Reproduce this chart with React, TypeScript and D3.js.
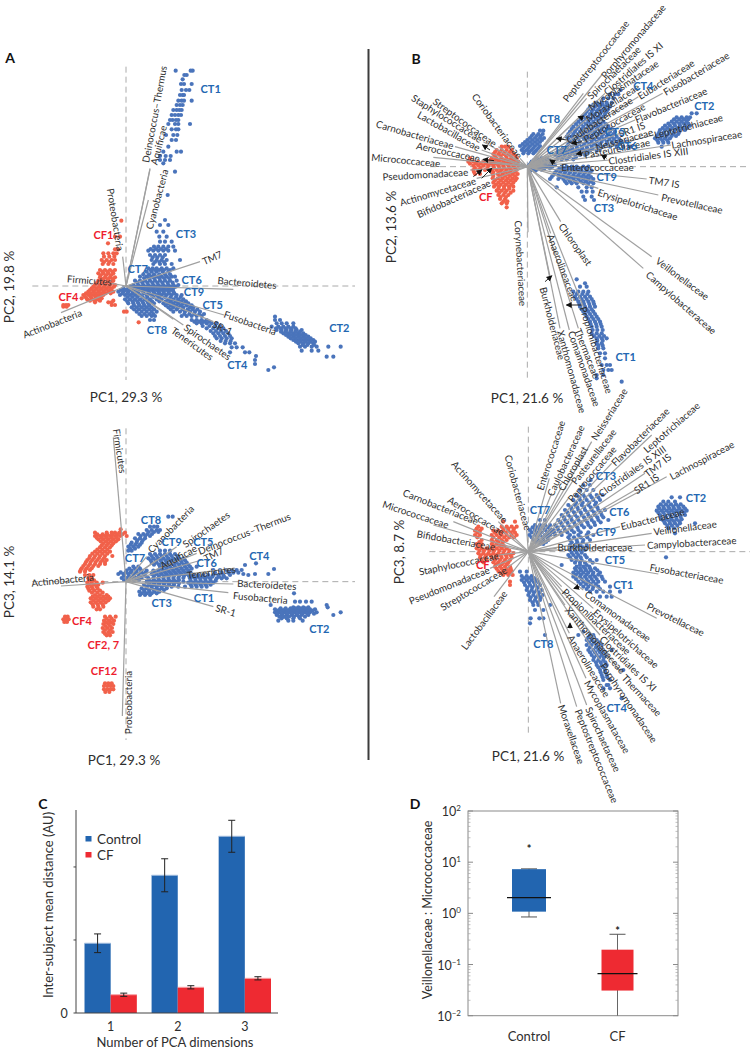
import React from "react";
import * as d3 from "d3";

type Row = number[];
type Load = [string, number, number, number, number, number, number];
type Tag = [string, number, number];

// ---- Panel A, PC1 / PC2 (score rows: [pc2, pc1, pc1, ...], read-off units)
const a1Blue: Row[] = [
  [92,527,578,572],[105,553,560],[118,548],[132,543,552,575],[150,545,568,558],[165,540,552,548],[182,575,545,552,535],[195,530,540,548],[210,520,530,538,545],[225,515,525,535,543],[240,518,528,535,510],[252,505,525,535,570],[268,515,528,535],[285,498,520,532],[300,515,528],[320,505],[335,490,530,543],[348,480,497,512],[360,480,495,510],[370,490],[395,525],[465,503],
  [540,495],[555,480,505],[575,470,490],[590,478,500],[605,480,495,515],[620,462,475,490,505,520],[632,445,460,475,490,505,525],[645,450,465,480,495],[660,455,470,485,500,540],[672,460,480,495,515],[685,445,458,470,485,500,520],[695,440,455,470,488,505],[710,420,440,455,470,485,500,515,525],[722,405,420,435,450,465,480,495,510,530],[735,400,415,430,445,460,475,490,505,520,535],[745,370,385,400,415,430,445,460,475,490,505,520],[755,355,370,385,400,415,430,445,460,475,490,505,520],[765,360,375,390,405,420,440,455,470,485,500,515,530,545],[778,375,390,405,420,435,450,470,485,505,520,535,550],[790,385,400,415,430,445,462,490,505,520,535,550,565],[802,395,410,425,440,455,505,520,535,550,570,580],[815,410,425,440,455,470,520,540,555,570,585,600],[828,425,440,455,465,545,560,575,590,605],[840,450,462,575,590,605,620],[850,590,605,620,635,650],[865,620,640,655,670],[880,640,655,670,685],[895,650,665,680,695],[910,675,690,705],[922,695,710,728],[937,690,735,748],[948,768],[960,765],[972,765],[982,822],[990,805],
  [714,432,447,462,478,492,507],[728,412,427,442,457,472,487,503,518],[740,392,408,423,437,452,467,482,497,512,527],[750,362,377,393,408,423,438,453,468,482,497,512],[760,367,382,397,412,431,448,463,478,492,507,523],[771,383,397,412,428,442,460,477,495,512,528,542],[784,382,398,412,427,442,456,478,497,512,528,543,558],[796,402,418,433,448,497,513,528,543,560,575],[808,402,417,433,448,462,512,530,548,563,578,592],[822,418,433,448,460,553,568,583,598,612],[845,583,598,612,628],[858,608,628,645,660],[873,632,648,663,678],[888,645,660,675,690],[903,662,677,692],
  [627,452,468,483,498],[652,458,472,488],[666,465,478,492],[690,452,465,478,492,510],[703,430,447,462,478,495,510],
  [830,825],[840,825,840],[850,830,845,860,880],[860,815,835,850,865,880],[870,830,845,860,875,890,905],[880,850,865,880,895,910],[890,865,880,895,910,925],[900,880,895,910,925,940],[910,895,910,925,940],[920,900,915,935,950,985,1022],[932,905,935,955],[950,980,1000],
  [865,828,842,857,872,887],[875,843,857,872,887,900],[885,858,872,887,902,917],[895,872,887,902,917,932],[905,888,902,917,932,945],[915,908,922,942],
];
const a1Red: Row[] = [
  [542,364],[590,345,360],[610,324],[628,345,355],[640,310,325,340,350],[660,305,320,335,345],[672,308,325,340],[690,300,315,330,345],[700,295,310,325,340],[712,300,315,330,345],[722,295,310,325,340],[735,285,300,315,330,345],[745,275,290,305,320,335],[755,265,280,295,310,325,340],[765,250,265,280,295,310],[775,245,260,275,290,305],[782,270,285,300,340],[787,285,325,335],[795,190,198,205,335,345],[800,190,200],[815,372,380],[847,416],
  [650,312,328,343],[666,312,328],[695,307,322,337],[706,302,318,333],[717,307,322,337],[729,290,305,320,335],[740,280,297,312,327,342],[750,270,285,300,315,330],[760,258,272,287,302,317,332],[770,255,272,287,302],[779,262,280,295],
];
// ---- Panel A, PC1 / PC3
const a2Blue: Row[] = [
  [350,505,518],[380,450,462,472],[390,440,455,470,480],[402,415,430,442,456],[415,405,420,435],[428,395,410,425],[440,385,400,415],[452,385,395,480,495,510],
  [396,446,462,475],[408,422,436,450],[421,412,428],[434,392,406,420],[446,390,405],
  [462,450,465,480,495,510,525],[475,445,460,475,490,505,520,535,550],[488,455,470,485,500,515,530,545,560],[500,400,415,480,495,510,525,540,555,570,590],[512,380,395,410,425,440,460,475,490,505,520,535,550,565],[522,355,370,385,400,415,430,455,470,485,500,515,530,545,560,575],[534,365,380,395,410,425,445,460,475,490,505,520,535,550],[545,440,455,470,485,500,515,530,550],[555,432,447,462,477,492,507,522],[565,425,440,455,470,485,500],[575,418,433,448,463,478],[585,420,435,450],
  [468,455,470,485,500,515,532],[481,452,467,482,497,512,527,542,555],[494,462,477,492,507,522,537,552,565],[506,388,405,420,485,500,515,530,545,560,575],[517,362,377,392,407,422,437,465,480,495,510,525,540,555,570],[528,372,387,402,417,437,462,477,492,507,522,537,552,567],[540,372,387,402,417,447,462,477,492,507,522,537],[550,447,462,477,492,507,522,537],[560,440,455,470,485,500,515],[570,432,447,462,477,492],[580,425,440,455,470],
  [490,768],[495,735],[507,822],[510,640,660,680,695,710,725],[522,730,765,805],[525,580,595,610,625,640,655,670,690,745],[535,570,585,600,615,630,650,665,680],[548,565,580,595,610,625,640],[560,535,555,575,590,605,620],
  [530,577,592,607,622,637,657,672],[542,572,587,602,617,632,647],[554,572,587,602,617,632],[518,645,665,685,700,715],
  [580,882],[605,885,900,918,935],[615,812,980],[622,880,895,910,925,983],[628,825,840,855,870,885,900,915,930,945],[637,825,840,855,870,885,900,915,930,950,1022],[645,830,845,860,875,890,905,925,1000],[655,845,860,880,900],[662,835,865,880,908],
  [632,832,847,862,877,892,907,922,938],[641,832,847,862,877,892,907,922,942],[650,838,852,867,882,897,915],[625,842,857,872,887,902,917],
];
const a2Red: Row[] = [
  [388,362],[398,285,320,335,345,358,375],[408,285,300,315,330,345,360,380],[418,295,310,325,340,355],[430,310,325,340],[442,300,315,330],[455,285,300,315,330],[468,270,285,300,315,337],[480,262,277,292,307,320],[492,255,270,285,300,315],[505,245,260,275],[515,240,255],[535,265,275],[548,262,275,290,308],[560,262,275,290],[572,268,283,300],[585,285,300,320],[595,272,287,302,317,330],[607,272,287,302,317],[620,280,295,310],[628,290,300],
  [403,292,308,322,337,352,367],[413,290,305,320,335,350],[424,302,318,333,348],[436,305,320,335],[449,292,307,322],[461,277,292,307,322],[474,268,282,297,312],[486,258,272,287,302,315],[498,250,265,280,295],[510,242,256,270],[525,255,268,280],[541,268,282],[554,268,282,295],[566,265,278,293],[578,276,292,308],[590,278,293,310,325],[601,280,295,310,325],[613,278,293,308],
  [650,195,203,315,330,347],[658,190,198,206],[662,312,327,342],[666,193,201],[672,310,325,340],[684,308,322,336],[696,310,325,338],[706,320,330],
  [656,320,335],[667,318,333],[678,316,330],[690,315,330],[701,315,328],
  [850,315,325,335],[858,312,322,332,340],[868,312,322,332,340],[876,316,328],
];
// ---- Panel B, PC1 / PC2
const b1Blue: Row[] = [
  [392,510,520],[402,490,505,518],[414,480,495,510,522],[426,465,480,495,510],[438,450,465,480,495,510],[450,455,470,485,500],[460,460,475,490],
  [408,485,500,512],[420,472,487,502,516],[432,458,472,487,502],[444,460,475,490,505],[455,462,478,495],
  [475,500,515,530],[485,485,500,515,530,545],[495,478,493,508,523,538,555],[505,478,493,508,523,540],[513,480,495],
  [480,492,507,522,538],[490,482,497,512,527,542],[500,485,500,515,530,547],[509,485,500,515],
  [270,752],[283,720,735,745],[295,700,715,730],[308,680,695,710,725],[320,660,675,690,705,720],[335,650,665,680,695,710],[350,640,655,670,685,700],[365,625,640,655,670,685,700],[380,610,625,640,655,670,685,700,715],[395,600,615,630,645,660,675,690,705,720,735],[410,590,605,620,635,650,665,680,695,710,725,740],[425,600,615,630,650,665,680,695,710,725,740,755,770],[440,590,605,620,635,650,665,680,700,720,740,760,780],[452,570,585,600,615,630,645,660,680],[465,555,570,585,600,615,630,645],[478,560,575,590,610],
  [314,670,685,698,712],[328,655,670,685,700,714],[342,645,660,675,690,705],[357,632,648,662,678,692],[372,618,633,648,662,678,692,708],[387,605,620,635,650,665,680,695,710,725],[402,595,610,625,640,655,670,685,700,715,730],[417,595,610,625,642,658,672,688,702,718,732,748],[432,595,612,627,642,658,672,690,710,730,750],[446,578,592,607,622,637,652,668,690],[458,562,577,592,607,622,637,652],[471,565,580,598,618],
  [340,980,965],[352,920,935,950,960],[365,905,920,935,950],[377,885,900,915,930,945,960],[390,870,885,900,915,930,945],[402,865,880,895,910,925],[415,855,870,885,900],[428,865,880,895],[440,875],
  [358,912,928,942,955],[371,895,912,928,942,955],[384,878,892,907,922,938,952],[396,868,882,897,912,928],[408,860,875,890,905,918],[421,862,877,892],
  [500,575,590,605,620,640,655],[512,560,575,590,605,620,635,650,665],[525,550,565,580,595,610,625,640,655],[537,540,565,580,595,610,625,640,655,670],[550,590,605,620,640,655,670],[562,560,625,650,665],[575,635,650,668],[590,640,665],[600,645,672],
  [506,568,582,598,612,630,648],[518,555,570,585,600,615,630,645,660],[531,545,572,588,603,618,633,648,663],[544,585,600,615,632,648,663],
  [838,620],[850,645],[860,630,650],[875,610,625,640,655],[890,615,630,645,660],[905,625,640,655,670],[920,630,645,660,675],[935,640,655,670],[950,650,665,680],[965,660,675,690],[980,665,680,695],[1000,665,680,695],[1015,680,695,710],[1030,680,695],[1045,685,700],[1060,690,705],[1075,705],[1095,695,710,720],[1110,700,715,725],[1125,680,700],[1135,680],[1145,755],
  [882,620,637,652],[897,620,635,650,665],[912,628,642,658,672],[928,635,650,665],[942,645,660,675],[957,655,670,685],[972,662,678,692],[990,668,682,698],[1008,672,688,702],[1022,682,698],[1037,685,698],
];
const b1Red: Row[] = [
  [440,395,405,415],[450,380,395,410,425],[462,370,385,400,415,430],[475,300,365,380,395,410,425,440],[485,295,310,325,340,355,370,385,400,415,430,445],[497,310,325,340,355,370,385,400,415,430,445],[510,310,325,345,365,380,395,410,425,440],[522,315,330,368,383,398,413,428,443],[535,368,383,398,413,428,440],[548,370,385,400,415,430],[560,372,387,402,417,430],[572,380,395,410,430],[585,385,400,415],[597,390,405],[610,395,410],[622,410],
  [456,375,390,405,420],[468,375,392,408,422,436],[480,362,375,390,405,420,435],[491,300,318,332,348,362,378,392,408,422,438],[504,315,332,352,372,388,402,418,435],[516,312,328,370,388,405,420,435],[528,370,390,405,420,435],[541,375,392,408,422,436],[554,378,392,408,424],[566,385,402,418],[578,388,405,422],[591,392,408],[604,400,412],
];
// ---- Panel B, PC1 / PC3
const b2Blue: Row[] = [
  [270,662],[285,640,660],[300,630,650,670],[315,620,640,660,680,698],[330,610,630,650,670,690],[345,595,615,635,655,675],[360,585,605,625,645,665,685,705],[375,575,595,615,635,655,675,695],[390,565,585,605,625,645,665,685,715],[405,555,575,595,615,635,655,675],[420,545,565,585,605,625],[435,535,555,575,600,625,650,670],[450,600,620,640,660],[465,600,615,630,650],[480,600,615,630,645],[495,595,610,625,645],[510,605,620,635,660,680],[525,575,630,650],[535,615,630,645,660,675],[548,610,625,640,655,670,690],[560,610,630,645,660,675,695],[575,625,640,655,670,685,705],[590,640,655,670,685,720],[605,660,680,700,720,750],[620,690,710,725],
  [322,628,645,665,685],[338,618,638,658,678],[352,603,622,642,662,682],[367,592,612,632,652,672,692],[382,582,602,622,642,662,682,700],[397,572,592,612,632,652,672,692],[412,562,582,602,622,642,662],[427,552,572,592,612,632,655],[442,595,612,632,652],[457,605,622,638],[472,605,622,638,652],[488,605,620,635],[502,600,618,632,650],[518,615,630,645,668],[530,620,640,658],[541,618,633,648,663,682],[554,618,633,650,668,685],[567,618,635,650,665,680,698],[582,632,648,662,678],[597,650,668,690],
  [390,510,525],[405,495,510,525,540],[420,480,495,510,525,540,550],[435,478,495,510,525,540],[450,490,505,520,535],[462,510,520],
  [412,488,503,518,533],[427,485,500,515,532,545],[442,485,502,518,532],[456,498,512,528],
  [322,905,930],[335,880,895,915],[350,865,880,895,910,925,940],[362,860,875,890,905,920,935,950],[375,870,885,900,915,930,945],[388,875,890,905,920,935],[400,885,900,915,930,975],[415,895,912],[430,915],[502,888],
  [343,872,888,903,918,932],[356,868,882,898,912,928,945],[368,865,880,897,912,927,942],[381,872,888,903,918,932],[394,882,898,912,928],[407,892,906,922],
  [545,450,470],[558,455,470,485],[570,455,470,485,500],[585,465,480,495,510],[600,470,485,500,515],[615,475,490,505,518],[630,480,495,510],[645,490,505,540],[660,495,520],[685,482,508,520],[700,480],[735,525],
  [564,462,477,492],[577,462,477,492,505],[592,472,487,503],[607,478,492,508],[622,482,498,512],[637,488,503],
  [725,640],[735,625,660,670],[750,650,665,680],[765,650,665,680,695],[780,655,670,685,700,725],[795,665,680,695,710],[810,670,685,700],[825,680,695,710],[840,690,705,760],[855,695,710],[870,700,720],[885,710,715],[895,700,720],[925,755],
  [742,655,672],[757,657,672,687],[772,660,678,692],[787,660,675,690,705],[802,672,688,702],[817,678,692,706],[832,685,700],[847,692,706],[862,698,712],
];
const b2Red: Row[] = [
  [395,400,435],[410,325,395,410,425,440],[422,315,330,370,385,400,415,430],[435,315,330,365,380,395,410,425,440],[450,335,365,380,395,410],[462,320,335,365,380,395],[475,320,335,350,365,380,395,410],[490,325,340,355,370,385,400,415,430],[503,330,345,365,380,395,410,425],[517,340,370,385,400,415],[530,375,390,405,420],[543,385,400,415,425],[555,400,415,428],[575,420],[585,420],
  [416,320,335,400,415,432],[428,322,375,392,407,422,435],[442,322,370,388,403,418,432],[456,328,370,385,400],[468,328,372,388,402],[482,328,342,358,372,388,403,418],[496,332,348,362,378,392,408,422],[510,335,350,375,390,405,420],[523,378,395,410],[536,380,395,410,422],[549,392,408,420],
];

// ---- Loadings: [taxon, tipPC1, tipPC2, label start x, y, label end x, y]
const a1Loadings: Load[] = [
  ["Deinococcus–Thermus",450,385,435,370,490,75],["Aquificae",450,388,460,375,490,255],["Cyanobacteria",445,480,445,570,495,385],["Proteobacteria",368,650,332,445,362,632],["TM7",600,665,607,665,665,640],["Bacteroidetes",700,748,652,720,830,735],["Fusobacteria",672,825,672,820,830,875],["SR-1",640,845,640,850,695,875],["Spirochaetes",550,855,552,855,695,955],["Tenericutes",520,838,515,865,640,955],["Firmicutes",335,730,202,715,335,725],["Actinobacteria",183,818,68,885,245,815],
];
const a2Loadings: Load[] = [
  ["Firmicutes",340,112,350,88,370,218],["Proteobacteria",367,948,383,990,383,825],["Actinobacteria",183,558,95,548,280,530],["Cyanobacteria",440,470,445,455,578,318],["Spirochaetes",530,440,550,435,685,340],["Deinococcus–Thermus",590,460,592,455,873,345],["Aquificae",470,480,470,505,600,435],["TM7",605,480,615,475,665,450],["Tenericutes",700,505,560,525,708,505],["Bacteroidetes",700,552,713,548,888,558],["Fusobacteria",685,578,700,585,862,600],["SR-1",640,620,650,622,705,638],
];
const b1Loadings: Load[] = [
  ["Coriobacteriaceae",450,475,315,285,450,470],["Streptococcaceae",385,440,190,298,380,435],["Staphylococcaceae",340,425,128,290,335,420],["Lactobacillaceae",335,450,145,340,330,445],["Carnobacteriaceae",255,440,20,370,250,437],["Aerococcaceae",335,480,140,435,330,475],["Micrococcaceae",190,472,5,470,210,490],["Pseudomonadaceae",300,510,35,530,297,515],["Actinomycetaceae",320,535,88,608,318,540],["Bifidobacteriaceae",365,540,140,645,362,545],
  ["Peptostreptococcaceae",640,280,580,305,773,60],["Porphyromonadaceae",695,225,693,236,885,11],["Spirochaetaceae",650,295,652,295,810,140],["Clostridiales IS XI",705,280,703,280,875,130],["Mycoplasmataceae",655,325,655,325,865,185],["Moraxellaceae",655,355,655,355,800,260],["Eubacteriaceae",805,290,805,290,970,185],["Fusobacteriaceae",878,280,878,280,1078,160],["Caulobacteraceae",600,420,595,420,780,300],["Peptococcaceae",640,420,640,420,825,315],["Flavobacteriaceae",795,360,795,360,1010,270],["SR1 IS",750,400,750,400,820,375],["Neisseriaceae",680,440,680,440,845,395],["Pasteurellaceae",640,465,642,465,840,425],["Leptotrichiaceae",852,405,852,405,1058,350],["Lachnospiraceae",903,435,903,435,1117,400],["Clostridiales IS XIII",720,480,720,482,950,452],["Enterococcaceae",575,500,575,500,790,500],["TM7 IS",830,537,840,540,925,552],["Prevotellaceae",865,585,875,590,1058,630],["Erysipelotrichaceae",685,565,685,575,922,650],["Chloroplast",572,665,572,670,662,795],["Veillonellaceae",845,770,858,775,1018,895],["Campylobacteraceae",820,805,828,815,1040,1000],["Corynebacteriaceae",474,697,445,660,460,920],["Anaerolineaceae",542,700,542,705,615,900],["Burkholderiaceae",540,830,520,860,577,1080],["Propionibacteriaceae",640,920,640,920,720,1180],["Thermaceae",625,985,625,990,680,1130],["Comamonadaceae",598,990,603,990,684,1221],["Xanthomonadaceae",570,985,572,990,640,1240],
];
const b2Loadings: Load[] = [
  ["Enterococcaceae",538,265,508,300,575,92],["Caulobacteraceae",545,310,538,318,635,105],["Chloroplast",575,290,570,300,645,170],["Pasteurellaceae",610,270,607,280,733,118],["Peptococcaceae",595,325,595,335,735,168],["Neisseriaceae",665,155,668,150,765,-5],["Flavobacteriaceae",725,220,725,225,895,55],["Leptotrichiaceae",845,135,820,185,988,38],["Clostridiales IS XIII",692,310,692,310,880,175],["TM7 IS",825,250,825,255,900,195],["SR1 IS",795,300,795,303,862,258],["Lachnospiraceae",890,260,897,262,1093,158],["Eubacteriaceae",750,410,750,410,945,362],["Veillonellaceae",845,430,848,425,1042,400],["Campylobacteraceae",825,465,830,465,1100,450],["Burkholderiaceae",560,475,563,472,787,472],["Fusobacteriaceae",865,552,838,530,1062,570],["Prevotellaceae",860,685,832,645,1003,730],["Comamonadaceae",640,600,645,605,843,750],["Erysipelotrichaceae",670,655,672,660,865,830],["Clostridiales IS XI",690,735,692,740,858,900],["Propionibacteriaceae",575,590,580,598,780,790],["Thermaceae",755,850,760,855,872,975],["Xanthomonadaceae",585,645,588,650,765,850],["Porphyromonadaceae",690,810,695,815,860,1060],["Anaerolineaceae",598,730,600,735,715,920],["Mycoplasmataceae",648,865,650,870,775,1090],["Spirochaetaceae",650,945,655,950,745,1145],["Peptostreptococcaceae",620,950,623,955,738,1240],["Moraxellaceae",572,940,575,945,635,1120],
  ["Lactobacillaceae",372,620,275,780,408,600],["Streptococcaceae",410,535,210,655,410,535],["Pseudomonadaceae",360,535,113,635,362,535],["Staphylococcaceae",385,495,145,545,387,495],["Bifidobacteriaceae",375,465,140,430,377,470],["Micrococcaceae",190,405,38,340,237,405],["Carnobacteriaceae",250,395,100,305,325,395],["Aerococcaceae",400,425,235,325,403,430],["Actinomycetaceae",385,395,250,215,410,395],["Coriobacteriaceae",470,420,415,195,475,420],
];

// ---- Small arrows on the crowded biplot B: [fromX, fromY, toX, toY]
const b1Arrows: number[][] = [[360,450,338,435],[372,482,340,478],[310,530,335,510],[335,535,365,505],[590,420,560,415],[635,425,605,430],[640,355,625,350],[640,458,620,462],[710,475,695,465],[555,490,540,480],[525,845,545,828],[635,915,590,915]];
const b2Arrows: number[][] = [[628,590,612,595],[600,715,600,700]];

// ---- Cluster names
const a1Tags: Tag[] = [["CT1",632,145],["CT3",558,581],["CT7",413,686],["CT6",575,719],["CT9",582,753],["CT5",638,794],["CT8",471,868],["CT4",712,972],["CT2",1018,862]];
const a1RedTags: Tag[] = [["CF1",310,584],["CF4",205,768]];
const a2Tags: Tag[] = [["CT8",453,359],["CT9",515,424],["CT5",610,424],["CT7",405,472],["CT6",620,488],["CT4",778,466],["CT1",612,592],["CT3",485,607],["CT2",958,684]];
const a2RedTags: Tag[] = [["CF4",246,660],["CF2, 7",310,733],["CF12",312,812]];
const b1Tags: Tag[] = [["CT8",540,355],["CT7",560,447],["CT4",820,255],["CT2",1003,317],["CT5",735,395],["CT6",772,435],["CT9",710,530],["CT3",702,623],["CT1",767,1070]];
const b1RedTags: Tag[] = [["CF",347,588]];
const b2Tags: Tag[] = [["CT7",510,358],["CT3",708,255],["CT2",978,323],["CT6",748,365],["CT9",708,424],["CT5",735,507],["CT1",760,582],["CT8",520,760],["CT4",740,952]];
const b2RedTags: Tag[] = [["CF",338,523]];

// ---- Panel C
const dims = ["1","2","3"];
const groups = ["Control","CF"];
const controlMean = [0.955,1.886,2.42];
const controlErr = [0.128,0.226,0.219];
const cfMean = [0.25,0.352,0.475];
const cfErr = [0.022,0.022,0.022];
const cTicks = [0,1,2];

// ---- Panel D
const boxNames = ["Control","CF"];
const q1 = [1.08,0.031];
const median = [2.03,0.0665];
const q3 = [7.3,0.195];
const whiskerLow = [0.85,0.01];
const whiskerHigh = [7.4,0.39];
const outlier = [18.7,0.46];
const logDecades = [0.01,0.1,1,10,100];
const decadeExp = ["−2","−1","0","1","2"];

const FONT = "Lato, 'Open Sans', sans-serif";
const BLUE = "#4a74bb", RED = "#f1614a", TAGBLUE = "#2367b2", TAGRED = "#ee1c2e", LOAD = "#a0a0a0", INK = "#2e2e2e";
const expand = (rows: Row[]) => rows.flatMap(([y, ...xs]) => xs.map((x) => [x, y]));

function Biplot({ ox, oy, w, h, cx, cy, h0, h1, v0, v1, blue, red, loads, tags, redTags, arrows, r }: any) {
  const x = d3.scaleLinear().domain([0, w]).range([ox, ox + w / 3]);
  const y = d3.scaleLinear().domain([0, h]).range([oy, oy + h / 3]);
  return (
    <g>
      <line x1={x(h0)} x2={x(h1)} y1={y(cy)} y2={y(cy)} stroke="#aaa" strokeWidth={1} strokeDasharray="6 4" />
      <line x1={x(cx)} x2={x(cx)} y1={y(v0)} y2={y(v1)} stroke="#aaa" strokeWidth={1} strokeDasharray="6 4" />
      {expand(blue).map(([a, b], i) => <circle key={"b" + i} cx={x(a)} cy={y(b)} r={r} fill={BLUE} />)}
      {expand(red).map(([a, b], i) => <circle key={"r" + i} cx={x(a)} cy={y(b)} r={r} fill={RED} />)}
      {loads.map((l: Load) => <line key={l[0]} x1={x(cx)} y1={y(cy)} x2={x(l[1])} y2={y(l[2])} stroke={LOAD} strokeWidth={1.2} />)}
      {arrows.map((a: number[], i: number) => <line key={i} x1={x(a[0])} y1={y(a[1])} x2={x(a[2])} y2={y(a[3])} stroke="#111" strokeWidth={0.9} markerEnd="url(#head)" />)}
      {loads.map((l: Load) => {
        const mx = x((l[3] + l[5]) / 2), my = y((l[4] + l[6]) / 2);
        const ang = (Math.atan2(l[6] - l[4], l[5] - l[3]) * 180) / Math.PI;
        return <text key={l[0]} transform={`translate(${mx},${my}) rotate(${ang})`} textAnchor="middle" dominantBaseline="central" fontSize={9.8} fill={INK} fontFamily={FONT}>{l[0]}</text>;
      })}
      {tags.map((t: Tag) => <text key={t[0]} x={x(t[1])} y={y(t[2])} textAnchor="middle" dominantBaseline="central" fontSize={11} fontWeight={700} fill={TAGBLUE} fontFamily={FONT}>{t[0]}</text>)}
      {redTags.map((t: Tag) => <text key={t[0]} x={x(t[1])} y={y(t[2])} textAnchor="middle" dominantBaseline="central" fontSize={11} fontWeight={700} fill={TAGRED} fontFamily={FONT}>{t[0]}</text>)}
    </g>
  );
}

function Bars() {
  const y = d3.scaleLinear().domain([0, 2.78]).range([1013, 810]);
  const band = d3.scaleBand().domain(dims).range([82.5, 273]).paddingInner(0.22).paddingOuter(0.03);
  const sub = d3.scaleBand().domain(groups).range([0, band.bandwidth()]);
  const vals = [controlMean, cfMean], errs = [controlErr, cfErr], cols = ["#2265b0", "#ee2a32"], tops = ["#9db9dc", "#f7a3a6"];
  return (
    <g fontFamily={FONT} fill={INK}>
      {groups.map((g, k) => dims.map((d, i) => {
        const bx = band(d)! + sub(g)!;
        const mid = bx + sub.bandwidth() / 2;
        return (
          <g key={g + d}>
            <rect x={bx} width={sub.bandwidth()} y={y(vals[k][i])} height={y(0) - y(vals[k][i])} fill={cols[k]} />
            <line x1={bx} x2={bx + sub.bandwidth()} y1={y(vals[k][i])} y2={y(vals[k][i])} stroke={tops[k]} />
            <line x1={mid} x2={mid} y1={y(vals[k][i] + errs[k][i])} y2={y(vals[k][i] - errs[k][i])} stroke="#222" />
            <line x1={mid - 3.5} x2={mid + 3.5} y1={y(vals[k][i] + errs[k][i])} y2={y(vals[k][i] + errs[k][i])} stroke="#222" />
            <line x1={mid - 3.5} x2={mid + 3.5} y1={y(vals[k][i] - errs[k][i])} y2={y(vals[k][i] - errs[k][i])} stroke="#222" />
          </g>
        );
      }))}
      <line x1={76} x2={76} y1={y(2.78)} y2={y(0)} stroke="#444" />
      <line x1={76} x2={278} y1={y(0)} y2={y(0)} stroke="#444" />
      {cTicks.map((t) => <line key={t} x1={73.5} x2={76} y1={y(t)} y2={y(t)} stroke="#444" />)}
      <text x={64} y={y(0)} textAnchor="middle" dominantBaseline="central" fontSize={12.5}>0</text>
      {dims.map((d) => <text key={d} x={band(d)! + band.bandwidth() / 2} y={1026} textAnchor="middle" dominantBaseline="central" fontSize={12.5}>{d}</text>)}
      <text x={175} y={1042} textAnchor="middle" dominantBaseline="central" fontSize={13}>Number of PCA dimensions</text>
      <text transform="translate(48,905) rotate(-90)" textAnchor="middle" dominantBaseline="central" fontSize={13}>Inter-subject mean distance (AU)</text>
      {groups.map((g, k) => (
        <g key={g}>
          <rect x={85.5} y={836 + k * 16} width={6} height={5.5} fill={cols[k]} />
          <text x={97} y={839 + k * 16} dominantBaseline="central" fontSize={13.5}>{g}</text>
        </g>
      ))}
    </g>
  );
}

function Boxes() {
  const y = d3.scaleLog().domain([0.01, 100]).range([1015.7, 811]);
  const x0 = 468, x1 = 678;
  const centers = [529, 617.5];
  const widths = [17, 16];
  const medHalf = [22, 20];
  const cols = ["#2265b0", "#ee2a32"];
  const minors: number[] = [];
  logDecades.slice(0, -1).forEach((d) => d3.range(2, 10).forEach((m) => minors.push(d * m)));
  return (
    <g fontFamily={FONT} fill={INK}>
      <rect x={x0} y={y(100)} width={x1 - x0} height={y(0.01) - y(100)} fill="none" stroke="#8a8a8a" />
      {logDecades.map((t) => <g key={t}><line x1={x0} x2={x0 + 5} y1={y(t)} y2={y(t)} stroke="#8a8a8a" /><line x1={x1} x2={x1 - 5} y1={y(t)} y2={y(t)} stroke="#8a8a8a" /></g>)}
      {minors.map((t) => <g key={t}><line x1={x0} x2={x0 + 2.5} y1={y(t)} y2={y(t)} stroke="#a5a5a5" strokeWidth={0.7} /><line x1={x1} x2={x1 - 2.5} y1={y(t)} y2={y(t)} stroke="#a5a5a5" strokeWidth={0.7} /></g>)}
      {logDecades.map((t, i) => (
        <text key={t} x={461} y={y(t) + 5} textAnchor="end" fontSize={12.5}>10<tspan dy={-5} fontSize={8}>{decadeExp[i]}</tspan></text>
      ))}
      {boxNames.map((n, i) => (
        <g key={n}>
          <line x1={centers[i]} x2={centers[i]} y1={y(whiskerHigh[i])} y2={y(whiskerLow[i])} stroke="#666" />
          <line x1={centers[i] - 8} x2={centers[i] + 8} y1={y(whiskerHigh[i])} y2={y(whiskerHigh[i])} stroke="#555" />
          {i === 0 && <line x1={centers[i] - 8} x2={centers[i] + 8} y1={y(whiskerLow[i])} y2={y(whiskerLow[i])} stroke="#555" />}
          <rect x={centers[i] - widths[i]} width={widths[i] * 2} y={y(q3[i])} height={y(q1[i]) - y(q3[i])} fill={cols[i]} />
          <line x1={centers[i] - medHalf[i]} x2={centers[i] + medHalf[i]} y1={y(median[i])} y2={y(median[i])} stroke="#111" strokeWidth={1.3} />
          <text x={centers[i]} y={y(outlier[i]) + 4.5} textAnchor="middle" fontSize={11} fontWeight={700} fill="#222">*</text>
          <text x={centers[i]} y={1036} textAnchor="middle" dominantBaseline="central" fontSize={13}>{n}</text>
        </g>
      ))}
      <text transform="translate(427,910) rotate(-90)" textAnchor="middle" dominantBaseline="central" fontSize={12.5}>Veillonellaceae : Micrococcaceae</text>
    </g>
  );
}

const Title = ({ x, y, rot, t }: any) => (
  <text transform={`translate(${x},${y})${rot ? " rotate(-90)" : ""}`} textAnchor="middle" dominantBaseline="central" fontSize={13.5} fill={INK} fontFamily={FONT}>{t}</text>
);
const Letter = ({ x, y, t }: any) => <text x={x} y={y} textAnchor="middle" dominantBaseline="central" fontSize={14} fontWeight={700} fill="#111" fontFamily={FONT}>{t}</text>;

export default function App() {
  return (
    <svg width={750} height={1050} viewBox="0 0 750 1050" style={{ position: "absolute", left: 0, top: 0, background: "#fff" }}>
      <defs>
        <marker id="head" markerWidth={6} markerHeight={6} refX={5} refY={3} orient="auto" markerUnits="userSpaceOnUse">
          <path d="M0,0 L6,3 L0,6 Z" fill="#111" />
        </marker>
      </defs>
      <line x1={368.5} x2={368.5} y1={49} y2={760} stroke="#3c3c3c" strokeWidth={2} />
      <Biplot ox={0} oy={40} w={1110} h={1110} cx={378} cy={738} h0={97} h1={1065} v0={80} v1={1020} blue={a1Blue} red={a1Red} loads={a1Loadings} tags={a1Tags} redTags={a1RedTags} arrows={[]} r={2.1} />
      <Biplot ox={0} oy={400} w={1110} h={1080} cx={378} cy={545} h0={97} h1={1065} v0={85} v1={1020} blue={a2Blue} red={a2Red} loads={a2Loadings} tags={a2Tags} redTags={a2RedTags} arrows={[]} r={2.1} />
      <Biplot ox={370} oy={0} w={1140} h={1250} cx={472} cy={500} h0={180} h1={1140} v0={215} v1={1140} blue={b1Blue} red={b1Red} loads={b1Loadings} tags={b1Tags} redTags={b1RedTags} arrows={b1Arrows} r={2.1} />
      <Biplot ox={370} oy={390} w={1140} h={1260} cx={475} cy={485} h0={178} h1={1140} v0={110} v1={1035} blue={b2Blue} red={b2Red} loads={b2Loadings} tags={b2Tags} redTags={b2RedTags} arrows={b2Arrows} r={2.1} />
      <Title x={126} y={397} t="PC1, 29.3 %" />
      <Title x={9} y={287} rot t="PC2, 19.8 %" />
      <Title x={124} y={760} t="PC1, 29.3 %" />
      <Title x={9} y={582} rot t="PC3, 14.1 %" />
      <Title x={391} y={227} rot t="PC2, 13.6 %" />
      <Title x={527} y={398} t="PC1, 21.6 %" />
      <Title x={399} y={552} rot t="PC3, 8.7 %" />
      <Title x={528} y={756} t="PC1, 21.6 %" />
      <Letter x={10} y={57} t="A" />
      <Letter x={416} y={58} t="B" />
      <Letter x={43} y={803} t="C" />
      <Letter x={415} y={803} t="D" />
      <Bars />
      <Boxes />
    </svg>
  );
}
